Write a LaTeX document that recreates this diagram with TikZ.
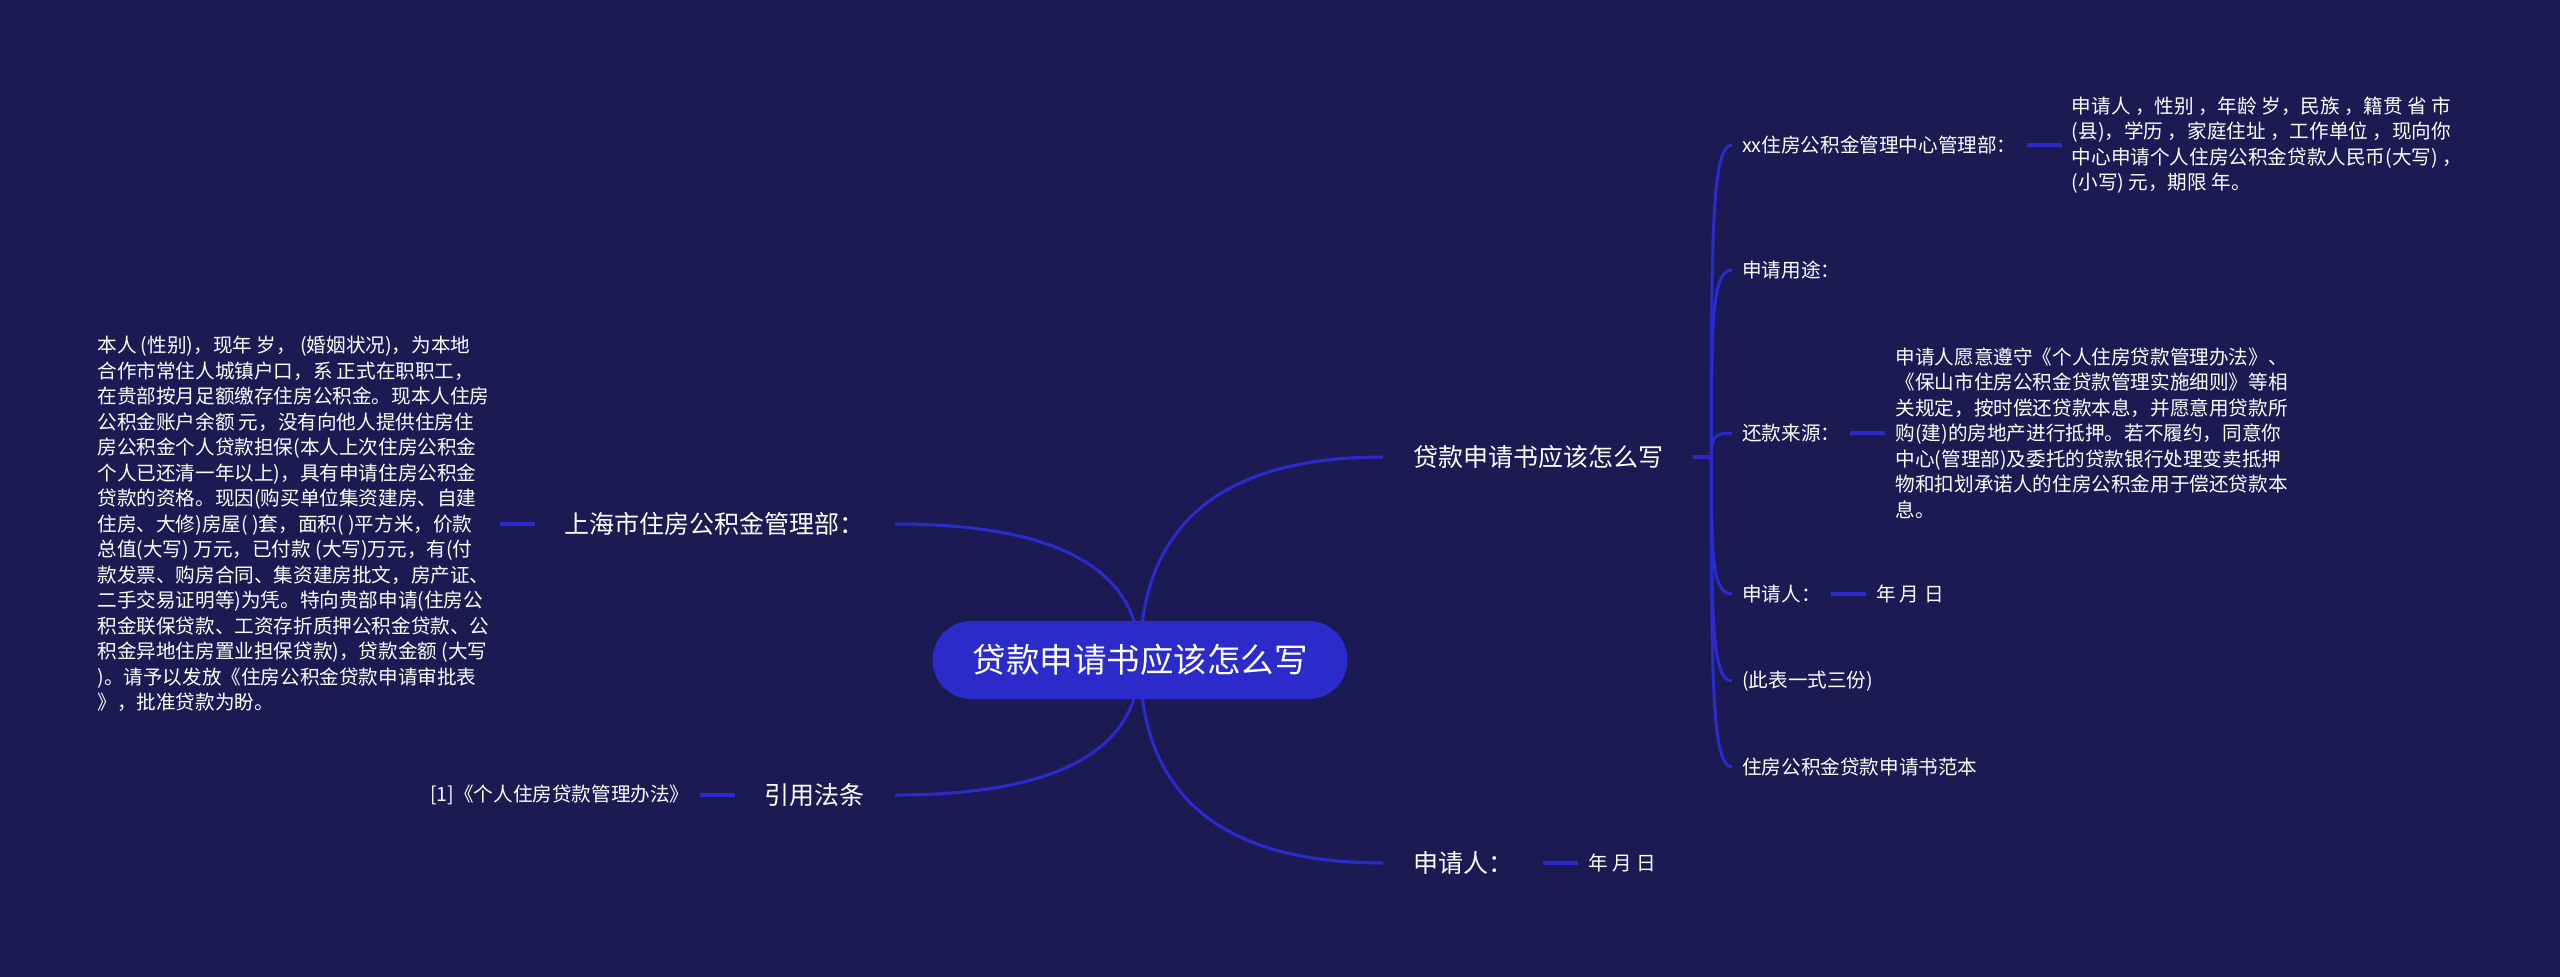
\documentclass[tikz,border=0pt]{standalone}
\usepackage{fontspec}
\newfontfamily\cjk{Noto Sans CJK SC}
\usetikzlibrary{positioning,calc}
\definecolor{bgc}{RGB}{27,26,83}
\definecolor{linec}{RGB}{43,43,205}
\definecolor{pillc}{RGB}{43,43,203}
\pgfdeclarelayer{bglayer}
\pgfdeclarelayer{linelayer}
\pgfsetlayers{bglayer,linelayer,main}
\begin{document}
\begin{tikzpicture}[x=1pt,y=-1pt,
  root/.style={fill=pillc, rounded corners=39pt, minimum width=415pt, minimum height=78pt, inner sep=0pt, text=white, font=\cjk\fontsize{33.5}{40}\selectfont},
  mainlab/.style={inner xsep=30pt, inner ysep=4pt, text=white, font=\cjk\fontsize{25}{30}\selectfont},
  sublab/.style={inner xsep=10pt, inner ysep=3pt, text=white, font=\cjk\fontsize{19.6}{25.5}\selectfont, align=left},
  curve/.style={draw=linec, line width=3pt},
  stub/.style={draw=linec, line width=3.5pt},
]
\useasboundingbox (0,0) rectangle (2560,977);
\begin{pgfonlayer}{bglayer}
\fill[bgc] (0,0) rectangle (2560,977);
\end{pgfonlayer}

\node[root] (c) at (1140,660) {贷款申请书应该怎么写};

\node[mainlab, anchor=east] (l1) at (895,524) {上海市住房公积金管理部：};
\node[sublab, left=35pt of l1] (l1a) {本人 (性别)，现年 岁， (婚姻状况)，为本地\\
合作市常住人城镇户口，系 正式在职职工，\\
在贵部按月足额缴存住房公积金。现本人住房\\
公积金账户余额 元，没有向他人提供住房住\\
房公积金个人贷款担保(本人上次住房公积金\\
个人已还清一年以上)，具有申请住房公积金\\
贷款的资格。现因(购买单位集资建房、自建\\
住房、大修)房屋( )套，面积( )平方米，价款\\
总值(大写) 万元，已付款 (大写)万元，有(付\\
款发票、购房合同、集资建房批文，房产证、\\
二手交易证明等)为凭。特向贵部申请(住房公\\
积金联保贷款、工资存折质押公积金贷款、公\\
积金异地住房置业担保贷款)，贷款金额 (大写\\
)。请予以发放《住房公积金贷款申请审批表\\
》，批准贷款为盼。};

\node[mainlab, anchor=east] (l2) at (895,795) {引用法条};
\node[sublab, left=35pt of l2] (l2a) {[1]《个人住房贷款管理办法》};

\node[mainlab, anchor=west] (r1) at (1383,457) {贷款申请书应该怎么写};
\node[mainlab, anchor=west] (r2) at (1383,863) {申请人：};
\node[sublab, right=35pt of r2] (r2a) {年 月 日};

\coordinate (J) at ([xshift=18pt]r1.east);

\node[sublab, anchor=west] (s1) at (1732,145) {xx住房公积金管理中心管理部：};
\node[sublab, right=35pt of s1] (s1a) {申请人 ，性别 ，年龄 岁，民族 ，籍贯 省 市\\
(县)，学历 ，家庭住址 ，工作单位 ，现向你\\
中心申请个人住房公积金贷款人民币(大写) ，\\
(小写) 元，期限 年。};
\node[sublab, anchor=west] (s2) at (1732,270) {申请用途：};
\node[sublab, anchor=west] (s3) at (1732,433) {还款来源：};
\node[sublab, right=35pt of s3] (s3a) {申请人愿意遵守《个人住房贷款管理办法》、\\
《保山市住房公积金贷款管理实施细则》等相\\
关规定，按时偿还贷款本息，并愿意用贷款所\\
购(建)的房地产进行抵押。若不履约，同意你\\
中心(管理部)及委托的贷款银行处理变卖抵押\\
物和扣划承诺人的住房公积金用于偿还贷款本\\
息。};
\node[sublab, anchor=west] (s4) at (1732,594) {申请人：};
\node[sublab, right=35pt of s4] (s4a) {年 月 日};
\node[sublab, anchor=west] (s5) at (1732,681) {(此表一式三份)};
\node[sublab, anchor=west] (s6) at (1732,767) {住房公积金贷款申请书范本};

\begin{pgfonlayer}{linelayer}
\foreach \t/\a in {l1/east,l2/east,r1/west,r2/west}
  \draw[curve] (c.center) .. controls ($(c.center)!0.667!(c.center |- \t.\a)$) and ($(\t.\a)!0.667!(c.center |- \t.\a)$) .. (\t.\a);
\draw[stub] (l1.west) -- (l1a.east);
\draw[stub] (l2.west) -- (l2a.east);
\draw[stub] (r2.east) -- (r2a.west);
\draw[stub] (r1.east) -- (J);
\draw[stub] (s1.east) -- (s1a.west);
\draw[stub] (s3.east) -- (s3a.west);
\draw[stub] (s4.east) -- (s4a.west);
\foreach \n in {s1,s2,s3,s4,s5,s6}
  \draw[curve] (J) .. controls ($(J)!0.7!(J |- \n.west)$) and (J |- \n.west) .. (\n.west);
\end{pgfonlayer}
\end{tikzpicture}
\end{document}
